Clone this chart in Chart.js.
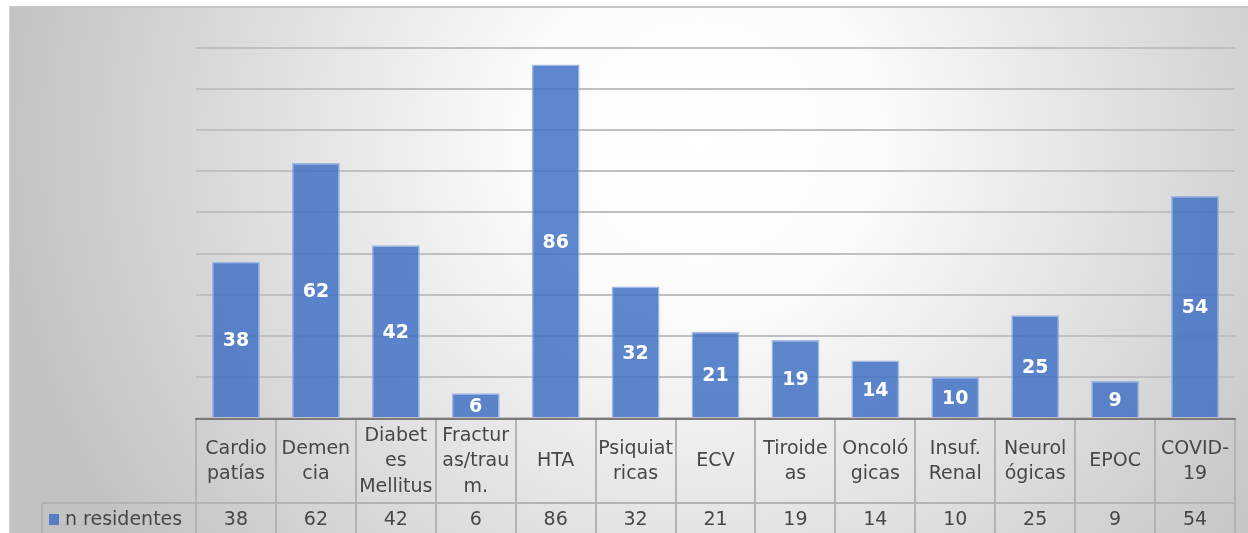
<!DOCTYPE html>
<html>
<head>
<meta charset="utf-8">
<script src="https://cdn.jsdelivr.net/npm/chart.js@4.4.1/dist/chart.umd.min.js"></script>
<style>
  html, body { margin: 0; padding: 0; background: #ffffff; }
  #wrap { width: 1248px; height: 533px; }
</style>
</head>
<body>
<div id="wrap"><canvas id="c" width="1248" height="533"></canvas></div>
<script>
// Categories (wrapped as they appear in the data table header)
const categories = [
  ['Cardio', 'patías'],
  ['Demen', 'cia'],
  ['Diabet', 'es', 'Mellitus'],
  ['Fractur', 'as/trau', 'm.'],
  ['HTA'],
  ['Psiquiat', 'ricas'],
  ['ECV'],
  ['Tiroide', 'as'],
  ['Oncoló', 'gicas'],
  ['Insuf.', 'Renal'],
  ['Neurol', 'ógicas'],
  ['EPOC'],
  ['COVID-', '19']
];
const seriesName = 'n residentes';
const residentes = [38, 62, 42, 6, 86, 32, 21, 19, 14, 10, 25, 9, 54];
const yMin = 0;
const yMax = 90;
const yStep = 10;

const FONT = '"DejaVu Sans", sans-serif';
const TEXT = '#474747';
const BAR = 'rgba(68, 114, 196, 0.86)';
const BAR_EDGE = 'rgba(150, 178, 226, 0.9)';

// Frame and radial background
const backgroundPlugin = {
  id: 'frameBackground',
  beforeDraw(chart) {
    const ctx = chart.ctx;
    const W = chart.width, H = chart.height;
    ctx.save();
    ctx.fillStyle = '#ffffff';
    ctx.fillRect(0, 0, W, H);
    const g = ctx.createRadialGradient(700, 140, 0, 700, 140, 700);
    g.addColorStop(0, '#ffffff');
    g.addColorStop(0.25, '#fbfbfb');
    g.addColorStop(1, '#c2c2c2');
    ctx.fillStyle = g;
    ctx.fillRect(9, 7, W - 9, H - 7);
    ctx.strokeStyle = '#c4c4c4';
    ctx.lineWidth = 2;
    ctx.beginPath();
    ctx.moveTo(9, 7);
    ctx.lineTo(W, 7);
    ctx.stroke();
    ctx.strokeStyle = '#cfcfcf';
    ctx.lineWidth = 1;
    ctx.beginPath();
    ctx.moveTo(9.5, 7);
    ctx.lineTo(9.5, H);
    ctx.stroke();
    ctx.restore();
  }
};

// Value labels centred inside each bar
const barLabelPlugin = {
  id: 'barLabels',
  afterDatasetsDraw(chart) {
    const ctx = chart.ctx;
    const meta = chart.getDatasetMeta(0);
    const area = chart.chartArea;
    ctx.save();
    ctx.beginPath();
    ctx.rect(area.left, area.top, area.right - area.left, area.bottom - area.top);
    ctx.clip();
    ctx.fillStyle = '#ffffff';
    ctx.font = 'bold 19px ' + FONT;
    ctx.textAlign = 'center';
    ctx.textBaseline = 'middle';
    meta.data.forEach((bar, i) => {
      const cy = (bar.y + bar.base) / 2 + 2;
      ctx.fillText(String(residentes[i]), bar.x, cy);
    });
    ctx.restore();
  }
};

// Data table under the plot: category header row and value row with legend key
const dataTablePlugin = {
  id: 'dataTable',
  afterDraw(chart) {
    const ctx = chart.ctx;
    const x = chart.scales.x;
    const area = chart.chartArea;
    const n = categories.length;
    const colW = (area.right - area.left) / n;
    const top = area.bottom;
    const rowSplit = top + 85;
    const bottom = chart.height + 40;
    const legendLeft = 42;

    ctx.save();
    // cell borders
    ctx.strokeStyle = '#b3b3b3';
    ctx.lineWidth = 2;
    ctx.beginPath();
    for (let i = 0; i <= n; i++) {
      const lx = Math.round(area.left + i * colW);
      ctx.moveTo(lx, top);
      ctx.lineTo(lx, bottom);
    }
    ctx.moveTo(legendLeft, rowSplit);
    ctx.lineTo(area.right, rowSplit);
    ctx.moveTo(legendLeft, rowSplit);
    ctx.lineTo(legendLeft, bottom);
    ctx.stroke();

    // axis line along the top of the table
    ctx.strokeStyle = '#7a7a7a';
    ctx.lineWidth = 2;
    ctx.beginPath();
    ctx.moveTo(area.left - 1, top + 1);
    ctx.lineTo(area.right + 1, top + 1);
    ctx.stroke();

    // header text
    ctx.fillStyle = TEXT;
    ctx.font = '19px ' + FONT;
    ctx.textAlign = 'center';
    ctx.textBaseline = 'middle';
    const lh = 25.5;
    const headMid = (top + rowSplit) / 2 + 1;
    categories.forEach((lines, i) => {
      const cx = x.getPixelForValue(i);
      const startY = headMid - (lines.length - 1) * lh / 2;
      lines.forEach((t, k) => ctx.fillText(t, cx, startY + k * lh));
    });

    // value row
    const valY = rowSplit + 17;
    residentes.forEach((v, i) => {
      ctx.fillText(String(v), x.getPixelForValue(i), valY);
    });

    // legend key
    ctx.fillStyle = BAR;
    ctx.fillRect(49, valY - 6, 10, 11);
    ctx.fillStyle = TEXT;
    ctx.textAlign = 'left';
    ctx.fillText(seriesName, 65, valY);
    ctx.restore();
  }
};

new Chart(document.getElementById('c'), {
  type: 'bar',
  data: {
    labels: categories.map(l => l.join('')),
    datasets: [{
      label: seriesName,
      data: residentes,
      backgroundColor: BAR,
      borderColor: BAR_EDGE,
      borderWidth: 1.5,
      barPercentage: 0.6,
      categoryPercentage: 1.0
    }]
  },
  options: {
    responsive: false,
    animation: false,
    devicePixelRatio: 1,
    layout: { padding: { left: 196, right: 13, top: 48, bottom: 115 } },
    plugins: {
      legend: { display: false },
      tooltip: { enabled: false }
    },
    scales: {
      x: {
        display: false
      },
      y: {
        min: yMin,
        max: yMax,
        ticks: { display: false, stepSize: yStep },
        border: { display: false },
        grid: { color: '#c0c0c0', lineWidth: 2, drawTicks: false }
      }
    }
  },
  plugins: [backgroundPlugin, barLabelPlugin, dataTablePlugin]
});
</script>
</body>
</html>
